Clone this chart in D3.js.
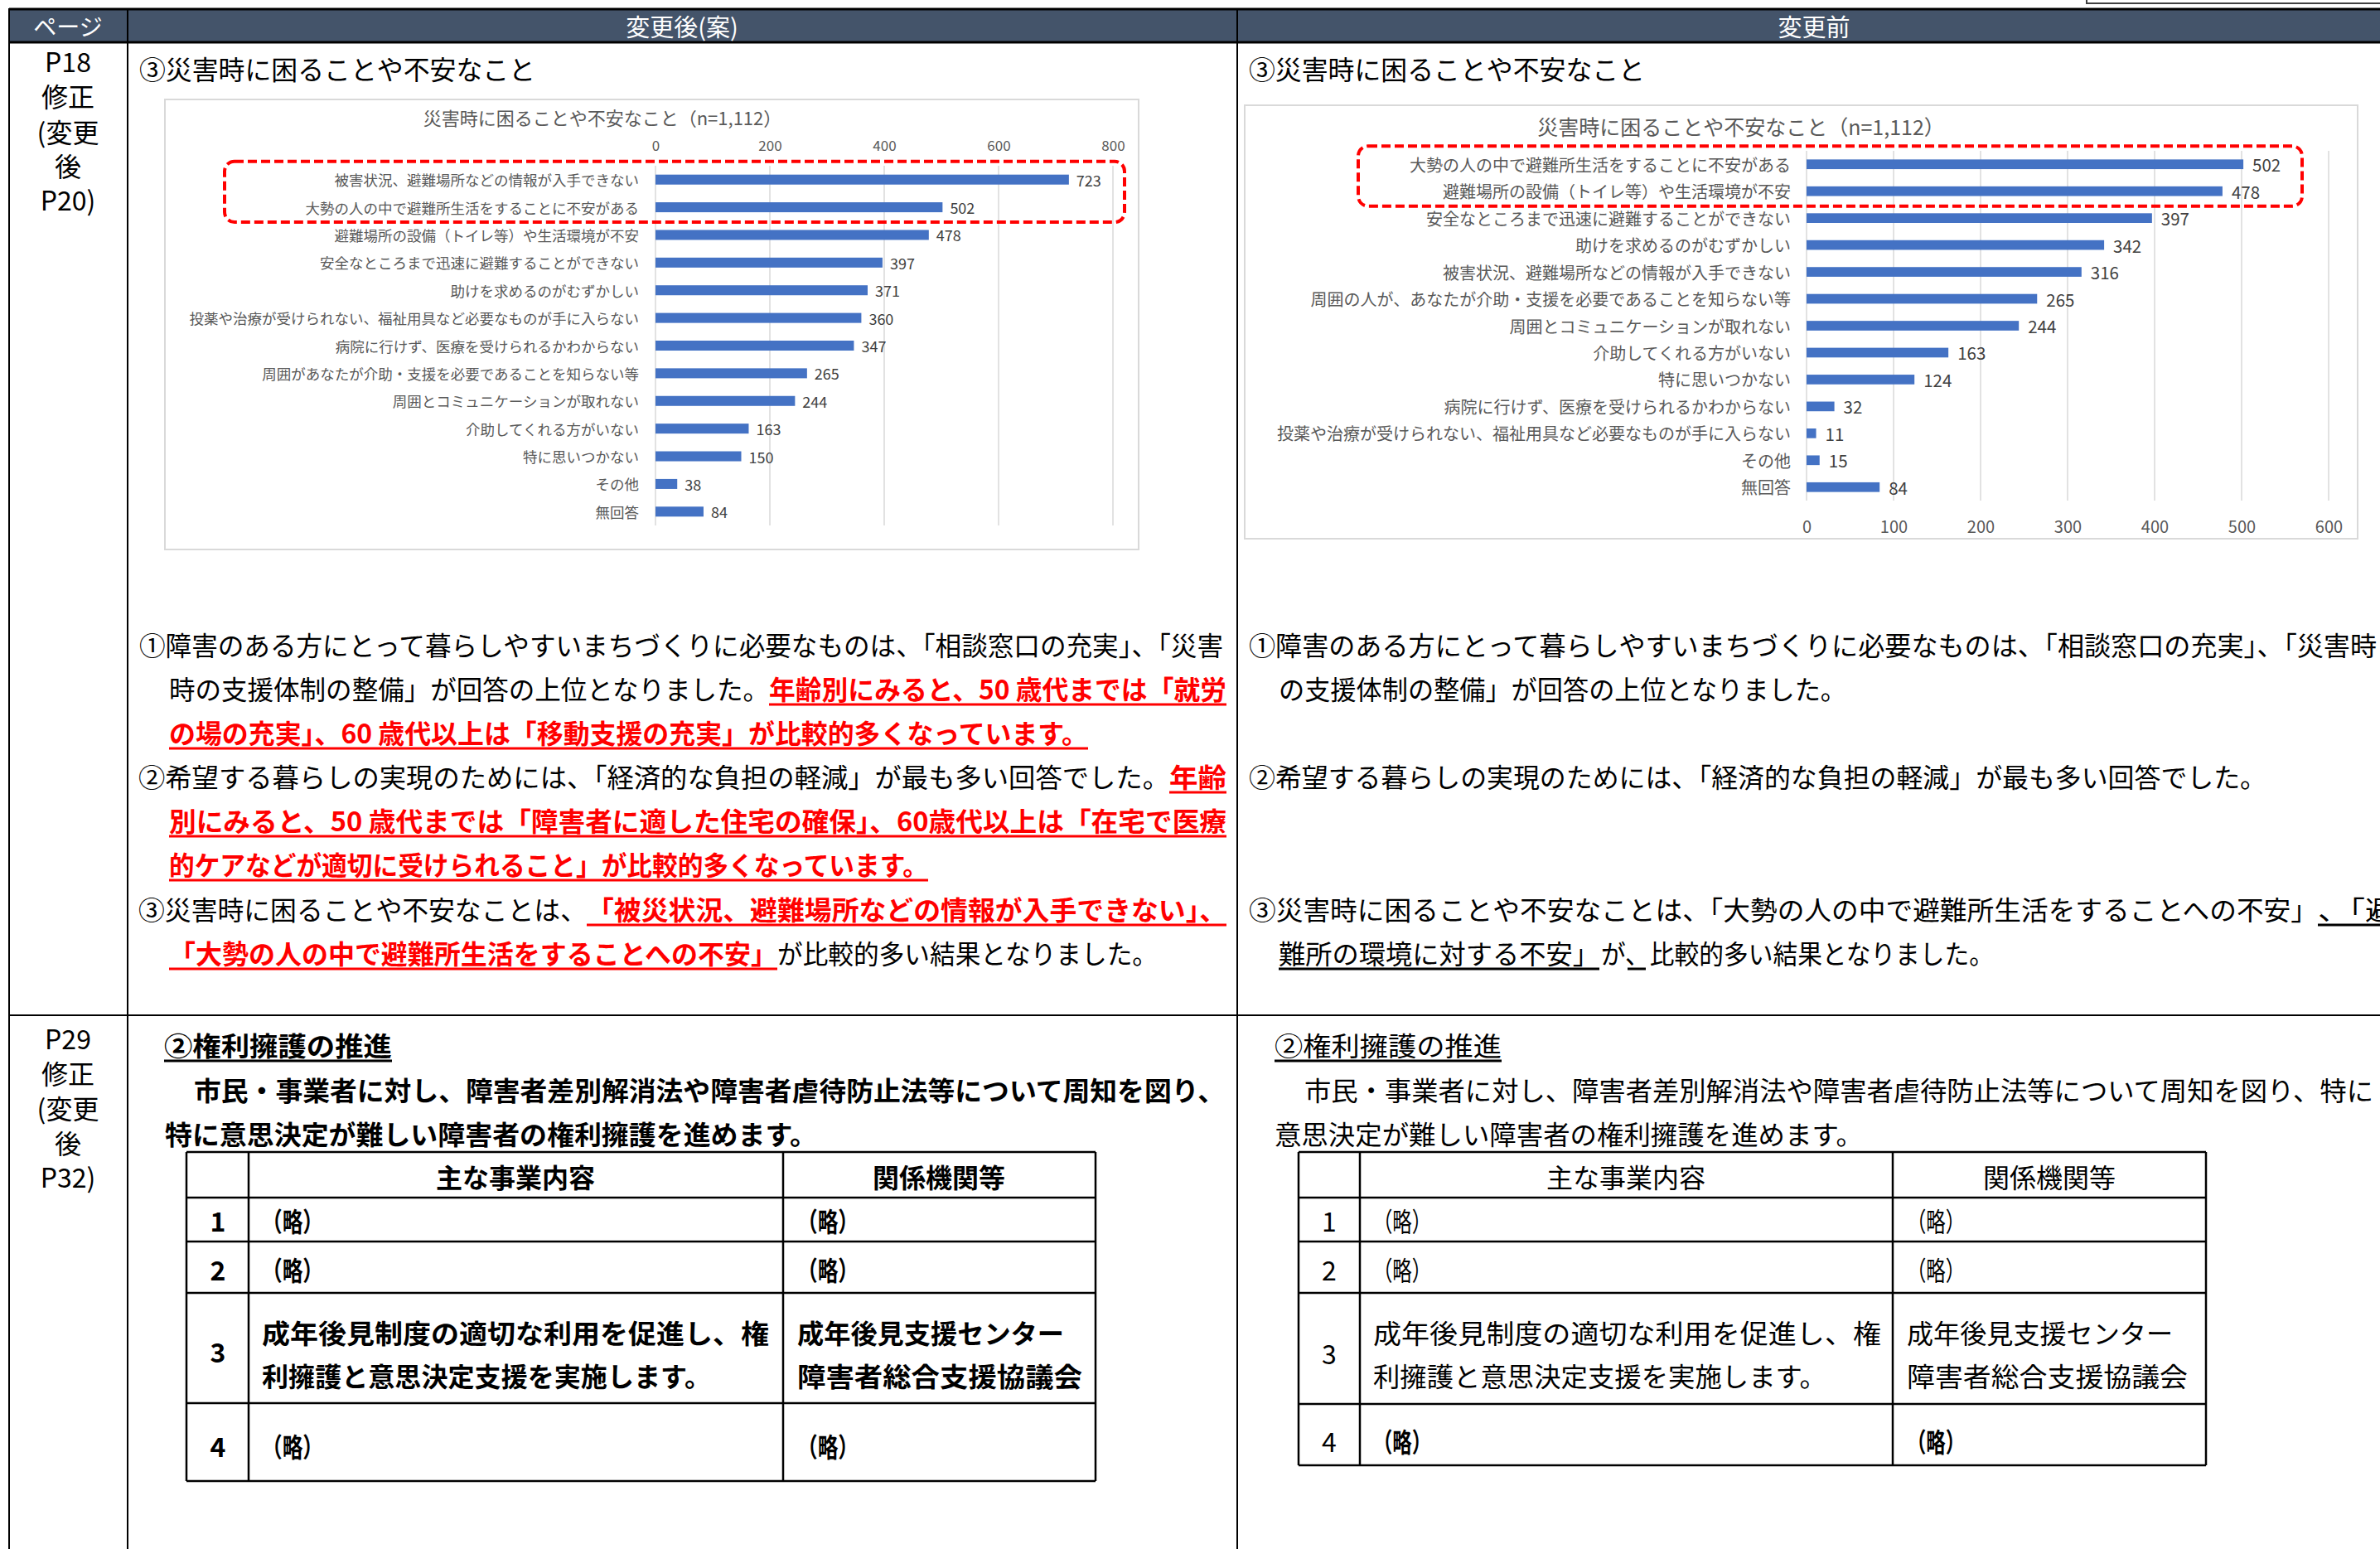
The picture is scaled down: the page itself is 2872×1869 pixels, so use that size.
<!DOCTYPE html>
<html>
<head>
<meta charset="utf-8">
<script src="https://cdn.jsdelivr.net/npm/d3@7"></script>
<style>
  body { margin: 0; background: #fff; }
</style>
</head>
<body>
<div id="page"></div>
<script>
// chart data (変更後 / 変更前)
const afterCats = [
  "被害状況、避難場所などの情報が入手できない",
  "大勢の人の中で避難所生活をすることに不安がある",
  "避難場所の設備（トイレ等）や生活環境が不安",
  "安全なところまで迅速に避難することができない",
  "助けを求めるのがむずかしい",
  "投薬や治療が受けられない、福祉用具など必要なものが手に入らない",
  "病院に行けず、医療を受けられるかわからない",
  "周囲があなたが介助・支援を必要であることを知らない等",
  "周囲とコミュニケーションが取れない",
  "介助してくれる方がいない",
  "特に思いつかない",
  "その他",
  "無回答"
];
const afterVals = [723, 502, 478, 397, 371, 360, 347, 265, 244, 163, 150, 38, 84];
const afterTicks = [0, 200, 400, 600, 800];

const beforeCats = [
  "大勢の人の中で避難所生活をすることに不安がある",
  "避難場所の設備（トイレ等）や生活環境が不安",
  "安全なところまで迅速に避難することができない",
  "助けを求めるのがむずかしい",
  "被害状況、避難場所などの情報が入手できない",
  "周囲の人が、あなたが介助・支援を必要であることを知らない等",
  "周囲とコミュニケーションが取れない",
  "介助してくれる方がいない",
  "特に思いつかない",
  "病院に行けず、医療を受けられるかわからない",
  "投薬や治療が受けられない、福祉用具など必要なものが手に入らない",
  "その他",
  "無回答"
];
const beforeVals = [502, 478, 397, 342, 316, 265, 244, 163, 124, 32, 11, 15, 84];
const beforeTicks = [0, 100, 200, 300, 400, 500, 600];

const chartTitle = "災害時に困ることや不安なこと（n=1,112）";

const FONT = '"Noto Sans CJK JP", "Noto Sans", sans-serif';
const RED = "#ff0000";

let svgWidth = 2872;
let svgHeight = 1869;

var svg = d3.select("#page")
    .append("svg")
    .attr("width", svgWidth)
    .attr("height", svgHeight)
    .attr("font-family", FONT);

svg.append("rect").attr("width", svgWidth).attr("height", svgHeight).attr("fill", "#fff");

// text segment: x0..x1 stretched to fit, centred on cy
function seg(g, x0, x1, cy, str, o = {}) {
    const t = g.append("text")
        .attr("x", x0)
        .attr("y", cy)
        .attr("dominant-baseline", "central")
        .attr("font-size", o.size || 32)
        .attr("font-weight", o.bold ? 700 : 400)
        .attr("fill", o.color || "#000")
        .text(str);
    if (x1 != null) t.attr("textLength", x1 - x0).attr("lengthAdjust", "spacingAndGlyphs");
    if (o.u) underline(g, x0, x1, cy, o.color);
    return t;
}

function underline(g, x0, x1, cy, color) {
    g.append("line")
        .attr("x1", x0).attr("x2", x1)
        .attr("y1", cy + 20).attr("y2", cy + 20)
        .attr("stroke", color || "#000")
        .attr("stroke-width", 3);
}

function mid(g, cx, cy, str, o = {}) {
    return g.append("text")
        .attr("x", cx)
        .attr("y", cy)
        .attr("text-anchor", "middle")
        .attr("dominant-baseline", "central")
        .attr("font-size", o.size || 32)
        .attr("font-weight", o.bold ? 700 : 400)
        .attr("fill", o.color || "#000")
        .text(str);
}

// ---------- frame of the comparison table ----------
var frame = svg.append("g");
frame.append("rect")
    .attr("x", 11).attr("y", 11)
    .attr("width", svgWidth).attr("height", 40)
    .attr("fill", "#44546a");
frame.append("rect")
    .attr("x", 2518).attr("y", -6)
    .attr("width", 370).attr("height", 10)
    .attr("fill", "#fff").attr("stroke", "#404040").attr("stroke-width", 2);

[[11, 11, svgWidth, 11, 3], [11, 51, svgWidth, 51, 3], [11, 1225, svgWidth, 1225, 2]]
    .forEach(l => frame.append("line")
        .attr("x1", l[0]).attr("y1", l[1]).attr("x2", l[2]).attr("y2", l[3])
        .attr("stroke", "#000").attr("stroke-width", l[4]));
[11, 154, 1493].forEach(x => frame.append("line")
    .attr("x1", x).attr("x2", x).attr("y1", 10).attr("y2", svgHeight)
    .attr("stroke", "#000").attr("stroke-width", 2));

mid(frame, 82, 31, "ページ", { size: 28, color: "#fff" });
mid(frame, 823, 31, "変更後(案)", { size: 29, color: "#fff" });
mid(frame, 2189, 31, "変更前", { size: 29, color: "#fff" });

// page column
[["P18", 73], ["修正", 115], ["(変更", 158], ["後", 199], ["P20)", 240],
 ["P29", 1252], ["修正", 1294], ["(変更", 1336], ["後", 1378], ["P32)", 1419]]
    .forEach(p => mid(frame, 82, p[1], p[0], { size: 32 }));

// ---------- bar charts ----------
function barChart(g, c) {
    const data = c.cats.map((k, i) => ({ k: k, v: c.vals[i] }));
    const x = d3.scaleLinear().domain([0, c.ticks[c.ticks.length - 1]]).range(c.xr);
    const y = d3.scaleBand().domain(c.cats).range(c.yr).paddingInner(0.64).paddingOuter(0.32);

    g.append("rect")
        .attr("x", c.box[0]).attr("y", c.box[1])
        .attr("width", c.box[2] - c.box[0]).attr("height", c.box[3] - c.box[1])
        .attr("fill", "#fff").attr("stroke", "#d9d9d9").attr("stroke-width", 2);

    mid(g, c.titleX, c.titleY, chartTitle, { size: c.titleSize, color: "#595959" });

    // gridlines
    g.selectAll(".grid").data(c.ticks).enter().append("line")
        .attr("x1", d => x(d)).attr("x2", d => x(d))
        .attr("y1", c.yr[0]).attr("y2", c.yr[1])
        .attr("stroke", "#d9d9d9").attr("stroke-width", 1.5);

    // value axis
    const axis = (c.axis === "top" ? d3.axisTop(x) : d3.axisBottom(x))
        .tickValues(c.ticks).tickSize(0).tickFormat(d3.format("d"));
    const ag = g.append("g")
        .attr("transform", `translate(0, ${c.axisY})`)
        .call(axis)
        .attr("font-family", FONT)
        .attr("font-size", c.tickSize);
    ag.select(".domain").remove();
    ag.selectAll("text")
        .attr("y", 0).attr("dy", null)
        .attr("dominant-baseline", "central")
        .attr("fill", "#595959");

    // category axis
    const cg = g.append("g")
        .attr("transform", `translate(${x(0)}, 0)`)
        .call(d3.axisLeft(y).tickSize(0).tickPadding(c.pad))
        .attr("font-family", FONT)
        .attr("font-size", c.labelSize);
    cg.select(".domain").remove();
    cg.selectAll("text")
        .attr("dy", null)
        .attr("dominant-baseline", "central")
        .attr("fill", "#595959");

    // bars
    g.selectAll(".bar").data(data).enter().append("rect")
        .attr("x", x(0))
        .attr("y", d => y(d.k))
        .attr("width", d => x(d.v) - x(0))
        .attr("height", y.bandwidth())
        .attr("fill", "#4472c4");

    // value labels
    g.selectAll(".val").data(data).enter().append("text")
        .attr("x", d => x(d.v) + c.valOff)
        .attr("y", d => y(d.k) + y.bandwidth() / 2)
        .attr("dominant-baseline", "central")
        .attr("font-size", c.valSize)
        .attr("fill", "#404040")
        .text(d => d.v);

    // red dashed highlight round the first two bars
    const top = y(c.cats[0]) + y.bandwidth() / 2 - 22;
    const bot = y(c.cats[1]) + y.bandwidth() / 2 + 18;
    g.append("rect")
        .attr("x", c.hx[0]).attr("y", top)
        .attr("width", c.hx[1] - c.hx[0]).attr("height", bot - top)
        .attr("rx", 12)
        .attr("fill", "none")
        .attr("stroke", RED).attr("stroke-width", 4)
        .attr("stroke-dasharray", "11,5");
}

var left = svg.append("g");
var right = svg.append("g");

seg(left, 168, 646, 82, "③災害時に困ることや不安なこと");
seg(right, 1507, 1985, 82, "③災害時に困ることや不安なこと");

barChart(left, {
    cats: afterCats, vals: afterVals, ticks: afterTicks,
    xr: [791, 1343], yr: [200, 634], axis: "top", axisY: 174,
    tickSize: 17, pad: 20, labelSize: 17.5, valSize: 18, valOff: 9,
    box: [199, 120, 1374, 663], titleX: 727, titleY: 141, titleSize: 22,
    hx: [271, 1357]
});

barChart(right, {
    cats: beforeCats, vals: beforeVals, ticks: beforeTicks,
    xr: [2180, 2810], yr: [182, 604], axis: "bottom", axisY: 634,
    tickSize: 20, pad: 19, labelSize: 20, valSize: 20.5, valOff: 11,
    box: [1502, 127, 2845, 650], titleX: 2101, titleY: 152, titleSize: 25,
    hx: [1639, 2778]
});

// ---------- paragraphs (row 1) ----------
const R = { color: RED, bold: true, u: true };
seg(left, 168, 1476, 777, "①障害のある方にとって暮らしやすいまちづくりに必要なものは、「相談窓口の充実」、「災害");
seg(left, 204, 928, 830, "時の支援体制の整備」が回答の上位となりました。");
seg(left, 928, 1480, 830, "年齢別にみると、50 歳代までは「就労", R);
seg(left, 204, 1313, 883, "の場の充実」、60 歳代以上は「移動支援の充実」が比較的多くなっています。", R);
seg(left, 167, 1411, 936, "②希望する暮らしの実現のためには、「経済的な負担の軽減」が最も多い回答でした。");
seg(left, 1411, 1480, 936, "年齢", R);
seg(left, 204, 1480, 989, "別にみると、50 歳代までは「障害者に適した住宅の確保」、60歳代以上は「在宅で医療", R);
seg(left, 204, 1120, 1042, "的ケアなどが適切に受けられること」が比較的多くなっています。", R);
seg(left, 167, 708, 1096, "③災害時に困ることや不安なことは、");
seg(left, 708, 1480, 1096, "「被災状況、避難場所などの情報が入手できない」、", R);
seg(left, 204, 938, 1149, "「大勢の人の中で避難所生活をすることへの不安」", R);
seg(left, 938, 1397, 1149, "が比較的多い結果となりました。");

seg(right, 1507, 2868, 777, "①障害のある方にとって暮らしやすいまちづくりに必要なものは、「相談窓口の充実」、「災害時");
seg(right, 1543, 2228, 830, "の支援体制の整備」が回答の上位となりました。");
seg(right, 1507, 2735, 936, "②希望する暮らしの実現のためには、「経済的な負担の軽減」が最も多い回答でした。");
seg(right, 1507, 2797, 1096, "③災害時に困ることや不安なことは、「大勢の人の中で避難所生活をすることへの不安」");
seg(right, 2797, 2892, 1096, "、「避", { u: true });
seg(right, 1543, 1930, 1149, "難所の環境に対する不安」", { u: true });
seg(right, 1932, 2406, 1149, "が、比較的多い結果となりました。");
underline(right, 1964, 1986, 1149);

// ---------- row 2 ----------
seg(left, 198, 473, 1260, "②権利擁護の推進", { bold: true, u: true });
seg(left, 234, 1478, 1314, "市民・事業者に対し、障害者差別解消法や障害者虐待防止法等について周知を図り、", { bold: true });
seg(left, 199, 986, 1367, "特に意思決定が難しい障害者の権利擁護を進めます。", { bold: true });

seg(right, 1538, 1812, 1260, "②権利擁護の推進", { u: true });
seg(right, 1574, 2864, 1314, "市民・事業者に対し、障害者差別解消法や障害者虐待防止法等について周知を図り、特に");
seg(right, 1538, 2248, 1367, "意思決定が難しい障害者の権利擁護を進めます。");

function gridTable(g, cols, rows) {
    cols.forEach(x => g.append("line")
        .attr("x1", x).attr("x2", x).attr("y1", rows[0]).attr("y2", rows[rows.length - 1])
        .attr("stroke", "#000").attr("stroke-width", 2.5));
    rows.forEach(y => g.append("line")
        .attr("x1", cols[0]).attr("x2", cols[cols.length - 1]).attr("y1", y).attr("y2", y)
        .attr("stroke", "#000").attr("stroke-width", 2.5));
}

gridTable(left, [225, 300, 945, 1322], [1390, 1445, 1498, 1560, 1693, 1787]);
gridTable(right, [1567, 1641, 2284, 2662], [1390, 1445, 1498, 1560, 1694, 1768]);

// left table (bold)
const B = { bold: true };
mid(left, 622, 1419, "主な事業内容", B);
mid(left, 1133, 1419, "関係機関等", B);
[["1", 1472], ["2", 1531], ["3", 1630], ["4", 1744]].forEach(r => mid(left, 263, r[1], r[0], B));
[1472, 1531, 1744].forEach(cy => {
    seg(left, 316, 390, cy, "（略）", B);
    seg(left, 962, 1036, cy, "（略）", B);
});
seg(left, 316, 928, 1607, "成年後見制度の適切な利用を促進し、権", B);
seg(left, 316, 858, 1659, "利擁護と意思決定支援を実施します。", B);
seg(left, 962, 1284, 1607, "成年後見支援センター", B);
seg(left, 962, 1306, 1659, "障害者総合支援協議会", B);

// right table
mid(right, 1962, 1419, "主な事業内容");
mid(right, 2473, 1419, "関係機関等");
[["1", 1472], ["2", 1531], ["3", 1632], ["4", 1738]].forEach(r => mid(right, 1604, r[1], r[0]));
[1472, 1531].forEach(cy => {
    seg(right, 1657, 1727, cy, "（略）");
    seg(right, 2301, 2371, cy, "（略）");
});
seg(right, 1657, 1727, 1738, "（略）", B);
seg(right, 2301, 2371, 1738, "（略）", B);
seg(right, 1657, 2270, 1607, "成年後見制度の適切な利用を促進し、権");
seg(right, 1657, 2204, 1659, "利擁護と意思決定支援を実施します。");
seg(right, 2301, 2622, 1607, "成年後見支援センター");
seg(right, 2301, 2640, 1659, "障害者総合支援協議会");
</script>
</body>
</html>
